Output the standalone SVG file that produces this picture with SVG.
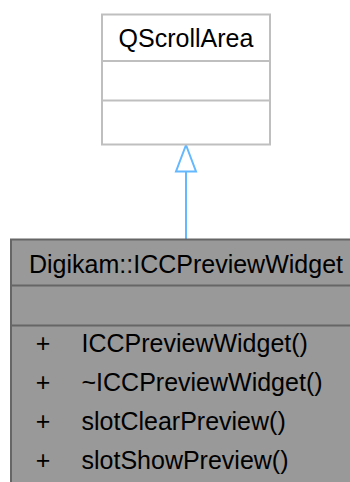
<svg xmlns="http://www.w3.org/2000/svg" width="350" height="482" viewBox="0 0 350 482">
<style>
text{font-family:"Liberation Sans",Arial,sans-serif;font-size:25px;fill:#000}
.c{text-anchor:middle}
.base{fill:#fff;stroke:#bfbfbf;stroke-width:2}
.baseline{stroke:#bfbfbf;stroke-width:2}
.cur{fill:#999;stroke:#666;stroke-width:2}
.curline{stroke:#666;stroke-width:2}
.edge{stroke:#63b8ff;stroke-width:2;fill:none}
.head{fill:#fff;stroke:#63b8ff;stroke-width:2}
</style>
<rect width="350" height="482" fill="#fff"/>
<g id="connectors">
<line class="edge" x1="186" y1="239.5" x2="186" y2="170"/>
<polygon class="head" points="186,145 176,171.5 196,171.5"/>
</g>
<g id="node-QScrollArea">
<rect class="base" x="102" y="14.5" width="168" height="130"/>
<line class="baseline" x1="102" y1="61" x2="270" y2="61"/>
<line class="baseline" x1="102" y1="100.5" x2="270" y2="100.5"/>
<text class="c" x="186" y="47">QScrollArea</text>
</g>
<g id="node-ICCPreviewWidget">
<rect class="cur" x="11" y="239.5" width="350" height="260"/>
<line class="curline" x1="11" y1="285.5" x2="361" y2="285.5"/>
<line class="curline" x1="11" y1="325.5" x2="361" y2="325.5"/>
<text class="c" x="186" y="272.5">Digikam::ICCPreviewWidget</text>
<text class="c" x="43" y="352">+</text>
<text x="81.5" y="352">ICCPreviewWidget()</text>
<text class="c" x="43" y="391">+</text>
<text x="81.5" y="391">~ICCPreviewWidget()</text>
<text class="c" x="43" y="430">+</text>
<text x="81.5" y="430">slotClearPreview()</text>
<text class="c" x="43" y="468.5">+</text>
<text x="81.5" y="468.5">slotShowPreview()</text>
</g>
</svg>
